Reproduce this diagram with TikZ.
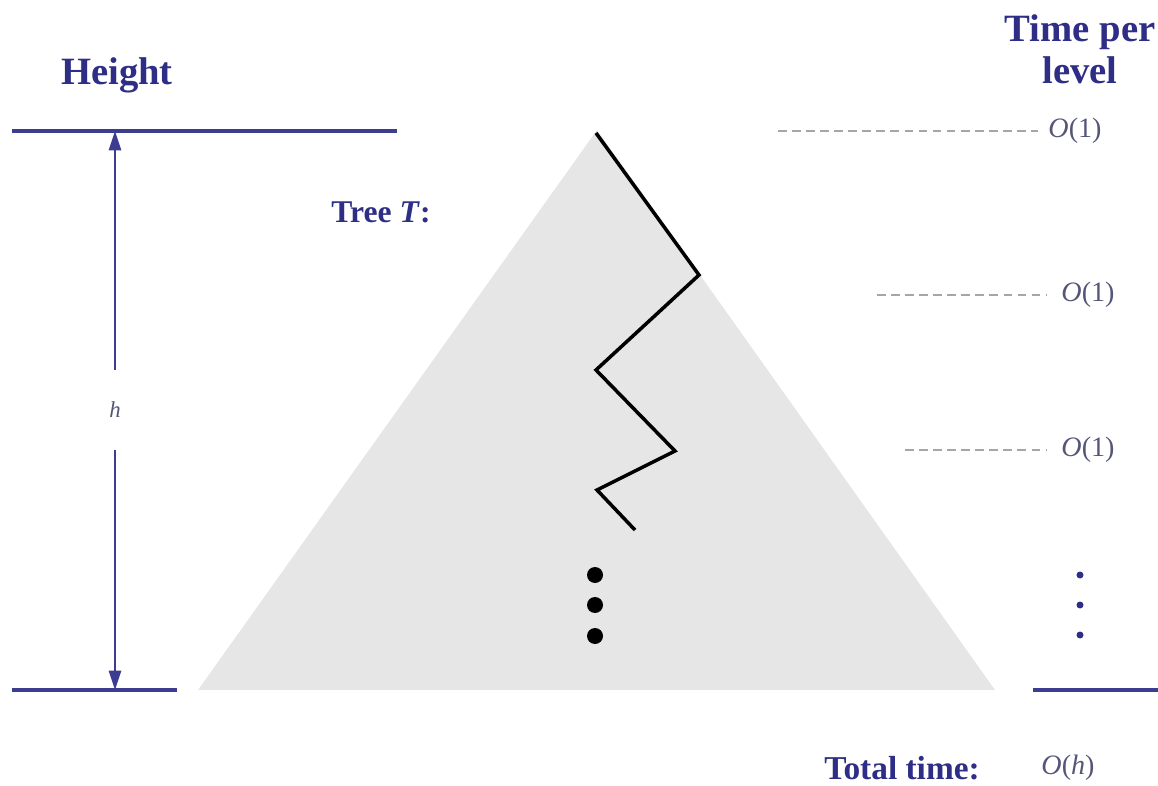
\documentclass[tikz,border=0pt]{standalone}
\usepackage{fontspec}
\setmainfont{Liberation Serif}
\usetikzlibrary{arrows.meta}
\definecolor{navy}{HTML}{2E2E86}
\definecolor{linecol}{HTML}{3C3C90}
\definecolor{ocol}{HTML}{55557A}
\definecolor{trifill}{HTML}{E6E6E7}
\tikzset{
  px/.style={x=0.02cm,y=-0.02cm},
  title/.style={font=\fontsize{22}{24}\selectfont\bfseries, text=navy, align=center, inner sep=0pt},
  olabel/.style={font=\fontsize{16}{18}\selectfont, text=ocol, inner sep=0pt},
  levelline/.style={draw=linecol, line width=1.8pt},
  dashline/.style={draw=gray!70, dashed, line width=0.6pt, dash pattern=on 5pt off 3pt},
  zig/.style={draw=black, line width=2pt, line join=miter},
  dimarrow/.style={draw=linecol, line width=0.9pt, -{Triangle[length=11pt,width=7pt]}},
}
\begin{document}
\begin{tikzpicture}[px]
\useasboundingbox (0,0) rectangle (1158,786);
% triangle
\coordinate (apex) at (597,130);
\coordinate (bl) at (198,690);
\coordinate (br) at (995,690);
\fill[trifill] (apex) -- (br) -- (bl) -- cycle;
% level lines
\coordinate (t1) at (12,131);
\coordinate (t2) at (397,131);
\coordinate (b1) at (12,690);
\coordinate (b2) at (177,690);
\coordinate (r1) at (1033,690);
\coordinate (r2) at (1158,690);
\draw[levelline] (t1) -- (t2);
\draw[levelline] (b1) -- (b2);
\draw[levelline] (r1) -- (r2);
% height arrow
\coordinate (at) at (115,131);
\coordinate (ab) at (115,690);
\node[font=\fontsize{13}{15}\selectfont\itshape, text=ocol, inner sep=0pt] (h) at (115,410) {h};
\coordinate (hu) at (115,370);
\coordinate (hd) at (115,450);
\draw[dimarrow] (hu) -- (at);
\draw[dimarrow] (hd) -- (ab);
% titles
\node[title] (height) at (117,75) {Height};
\node[title] (tpl) at (1080,49) {Time per\\level};
\node[title, font=\fontsize{18}{20}\selectfont\bfseries] (tree) at (381,212) {Tree \textit{T}:};
\node[title, font=\fontsize{19}{21}\selectfont\bfseries] (total) at (902,768) {Total time:};
\node[olabel] (oh) at (1068,768) {\textit{O}(\textit{h})};
% zigzag path
\coordinate (z1) at (596,133);
\coordinate (z2) at (699,275);
\coordinate (z3) at (596,370);
\coordinate (z4) at (675,451);
\coordinate (z5) at (597,490);
\coordinate (z6) at (635,530);
\draw[zig] (z1) -- (z2) -- (z3) -- (z4) -- (z5) -- (z6);
% dots
\fill (595,575) circle (8);
\fill (595,605) circle (8);
\fill (595,636) circle (8);
\fill[navy] (1080,575) circle (3.5);
\fill[navy] (1080,605) circle (3.5);
\fill[navy] (1080,635) circle (3.5);
% time per level
\node[olabel] (o1) at (1075,131) {\textit{O}(1)};
\node[olabel] (o2) at (1088,295) {\textit{O}(1)};
\node[olabel] (o3) at (1088,450) {\textit{O}(1)};
\coordinate (d1) at (778,131);
\coordinate (d2) at (877,295);
\coordinate (d3) at (905,450);
\draw[dashline] (d1) -- ([xshift=-6pt]o1.west);
\draw[dashline] (d2) -- ([xshift=-8pt]o2.west);
\draw[dashline] (d3) -- ([xshift=-8pt]o3.west);
\end{tikzpicture}
\end{document}
